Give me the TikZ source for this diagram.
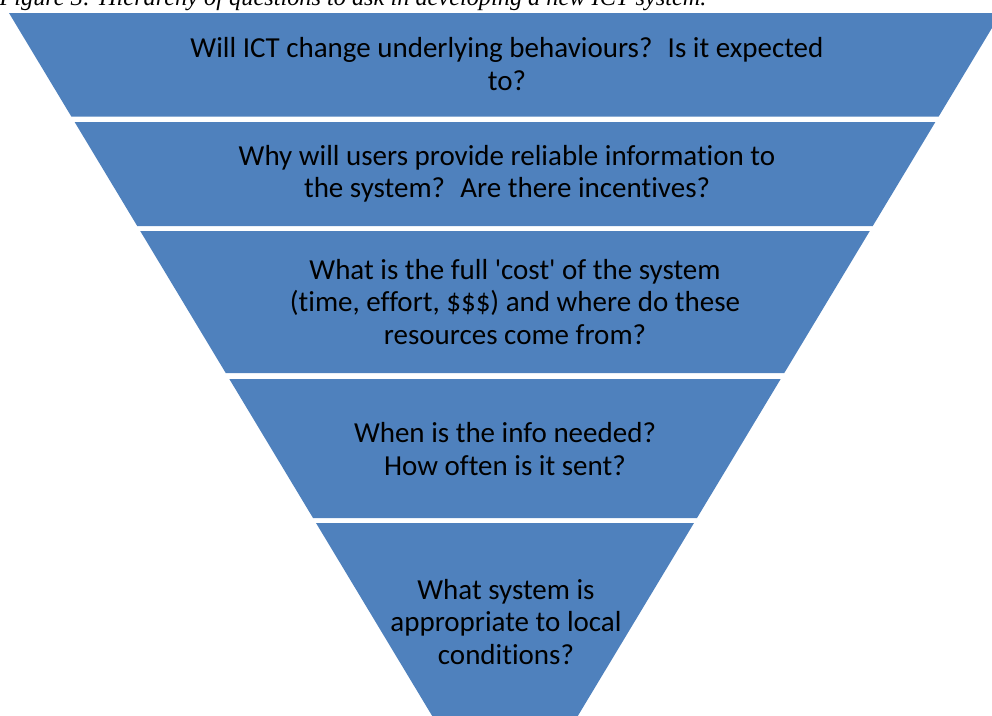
\documentclass[tikz,border=0pt]{standalone}
\usepackage{fontspec}
\setmainfont{Carlito}[Ligatures=NoCommon]
\newfontfamily\capfont{Liberation Serif}
\definecolor{funnelblue}{HTML}{4F81BD}

\begin{document}
\begin{tikzpicture}[x=1pt,y=-1pt,
    band/.style={fill=funnelblue},
    question/.style={align=center,font=\fontsize{29}{32.5}\selectfont}]
  \useasboundingbox (0,0) rectangle (992,715);

  % funnel bands: top/bottom of each band
  \foreach \t/\b in {13/116.5,122/226,231/373,379/518,523/829}
    \fill[band] ({9+0.602*(\t-13)},\t) -- ({1001-0.602*(\t-13)},\t)
      -- ({1001-0.602*(\b-13)},\b) -- ({9+0.602*(\b-13)},\b) -- cycle;

  \node[anchor=base west,font=\capfont\itshape\fontsize{24.3}{28}\selectfont] (fig) at (-4,5)
    {Figure 3: Hierarchy of questions to ask in developing a new ICT system.};

  \node[question] (behaviour) at (507,64) {Will ICT change underlying behaviours?~ Is it expected\\to?};
  \node[question] (incentive) at (507,174) {Why will users provide reliable information to\\the system?~ Are there incentives?};
  \node[question] (cost) at (515,302) {What is the full \textquotesingle cost\textquotesingle\ of the system\\(time, effort, \$\$\$) and where do these\\resources come from?};
  \node[question] (timing) at (505,449) {When is the info needed?\\How often is it sent?};
  \node[question] (local) at (506,622) {What system is\\appropriate to local\\conditions?};
\end{tikzpicture}
\end{document}
